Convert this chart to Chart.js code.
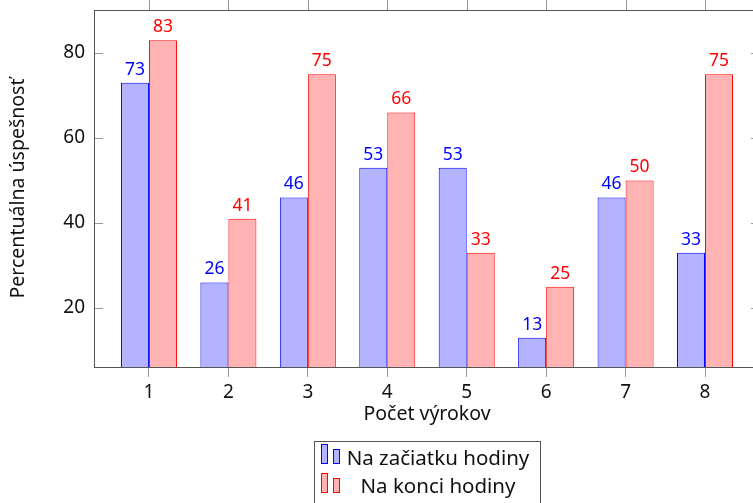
<!DOCTYPE html>
<html>
<head>
<meta charset="utf-8">
<script src="https://cdn.jsdelivr.net/npm/chart.js@4.4.1/dist/chart.umd.min.js"></script>
<style>
  html, body { margin: 0; padding: 0; background: #fff; overflow: hidden; }
  #wrap { width: 770px; height: 503px; }
  canvas { display: block; }
</style>
</head>
<body>
<div id="wrap"><canvas id="vyrokyChart" width="770" height="503"></canvas></div>
<script>
// data
const vyroky = [1, 2, 3, 4, 5, 6, 7, 8];
const naZaciatku = [73, 26, 46, 53, 53, 13, 46, 33];
const naKonci = [83, 41, 75, 66, 33, 25, 50, 75];
const yTicks = [20, 40, 60, 80];
const seriesNames = ['Na začiatku hodiny', 'Na konci hodiny'];
const xTitle = 'Počet výrokov';
const yTitle = 'Percentuálna úspešnosť';

const FONT = '"Noto Sans", "Open Sans", sans-serif';
const FRAME = '#555';
const TICK = '#999';

const toPoints = (arr) => arr.map((v, i) => ({ x: vyroky[i], y: v }));

// frame, ticks, value labels, titles and legend drawn like pgfplots
const pgfLook = {
  id: 'pgfLook',
  afterDatasetsDraw(chart) {
    const { ctx, chartArea: a, scales } = chart;
    ctx.save();
    // value labels over the bars
    ctx.font = '17.5px ' + FONT;
    ctx.textAlign = 'center';
    ctx.textBaseline = 'alphabetic';
    chart.data.datasets.forEach((ds, di) => {
      const meta = chart.getDatasetMeta(di);
      ctx.fillStyle = ds.borderColor;
      meta.data.forEach((bar, i) => {
        ctx.fillText(String(ds.data[i].y), bar.x, bar.y - 8);
      });
    });

    // ticks (y inside, top outside)
    ctx.strokeStyle = TICK;
    ctx.lineWidth = 1;
    ctx.beginPath();
    yTicks.forEach(v => {
      const y = Math.round(scales.y.getPixelForValue(v)) + 0.5;
      ctx.moveTo(a.left, y); ctx.lineTo(a.left + 9, y);
      ctx.moveTo(a.right, y); ctx.lineTo(a.right - 9, y);
    });
    vyroky.forEach(v => {
      const x = Math.round(scales.x.getPixelForValue(v)) + 0.5;
      ctx.moveTo(x, a.top); ctx.lineTo(x, a.top - 10);
    });
    ctx.stroke();

    // frame
    ctx.strokeStyle = FRAME;
    ctx.strokeRect(Math.round(a.left) + 0.5, Math.round(a.top) + 0.5,
      Math.round(a.right - a.left), Math.round(a.bottom - a.top));
    ctx.restore();
  },
  afterDraw(chart) {
    const { ctx, chartArea: a } = chart;
    ctx.save();
    ctx.fillStyle = '#111';
    ctx.font = '19.5px ' + FONT;
    ctx.textAlign = 'center';
    ctx.textBaseline = 'alphabetic';
    ctx.fillText(xTitle, (a.left + a.right) / 2, 420);

    ctx.translate(24, (a.top + a.bottom) / 2);
    ctx.rotate(-Math.PI / 2);
    ctx.fillText(yTitle, 0, 0);
    ctx.restore();

    // legend
    ctx.save();
    ctx.fillStyle = '#fff';
    ctx.strokeStyle = FRAME;
    ctx.lineWidth = 1;
    ctx.fillRect(314.5, 441.5, 226, 80);
    ctx.strokeRect(314.5, 441.5, 226, 80);
    ctx.font = '20.5px ' + FONT;
    ctx.textBaseline = 'alphabetic';
    chart.data.datasets.forEach((ds, di) => {
      const top = 444 + di * 29;
      ctx.fillStyle = ds.backgroundColor;
      ctx.strokeStyle = ds.borderColor;
      ctx.fillRect(321.5, top + 0.5, 6, 19);
      ctx.strokeRect(321.5, top + 0.5, 6, 19);
      ctx.fillRect(333.5, top + 5.5, 6, 14);
      ctx.strokeRect(333.5, top + 5.5, 6, 14);
      ctx.fillStyle = '#111';
      ctx.textAlign = 'center';
      ctx.fillText(ds.label, 438, 465 + di * 28);
    });
    ctx.restore();
  }
};

const noPad = (s) => { s.paddingTop = 0; s.paddingBottom = 0; s.paddingLeft = 0; s.paddingRight = 0; };

new Chart(document.getElementById('vyrokyChart'), {
  type: 'bar',
  data: {
    datasets: [
      {
        label: seriesNames[0],
        data: toPoints(naZaciatku),
        backgroundColor: 'rgb(179,179,255)',
        borderColor: 'rgb(0,0,255)',
        borderWidth: 1
      },
      {
        label: seriesNames[1],
        data: toPoints(naKonci),
        backgroundColor: 'rgb(255,179,179)',
        borderColor: 'rgb(255,0,0)',
        borderWidth: 1
      }
    ]
  },
  options: {
    responsive: false,
    animation: false,
    devicePixelRatio: 1,
    layout: { padding: { top: 10, right: 10, left: 0, bottom: 0 } },
    categoryPercentage: 0.705,
    barPercentage: 1.0,
    plugins: {
      legend: { display: false },
      tooltip: { enabled: false }
    },
    scales: {
      x: {
        type: 'linear',
        min: 0.308,
        max: 8.692,
        offset: false,
        afterBuildTicks: (s) => { s.ticks = vyroky.map(v => ({ value: v })); },
        afterFit: (s) => { s.height = 136; noPad(s); },
        grid: { display: true, offset: false, drawOnChartArea: false, drawTicks: true, tickLength: 10, color: TICK },
        border: { display: false },
        ticks: { color: '#111', padding: 4, font: { family: FONT, size: 19 } }
      },
      y: {
        min: 6.1,
        max: 90.1,
        afterBuildTicks: (s) => { s.ticks = yTicks.map(v => ({ value: v })); },
        afterFit: (s) => { s.width = 94; noPad(s); },
        grid: { display: false, drawTicks: false },
        border: { display: false },
        ticks: { color: '#111', padding: 9, font: { family: FONT, size: 19 } }
      }
    }
  },
  plugins: [pgfLook]
});
</script>
</body>
</html>
